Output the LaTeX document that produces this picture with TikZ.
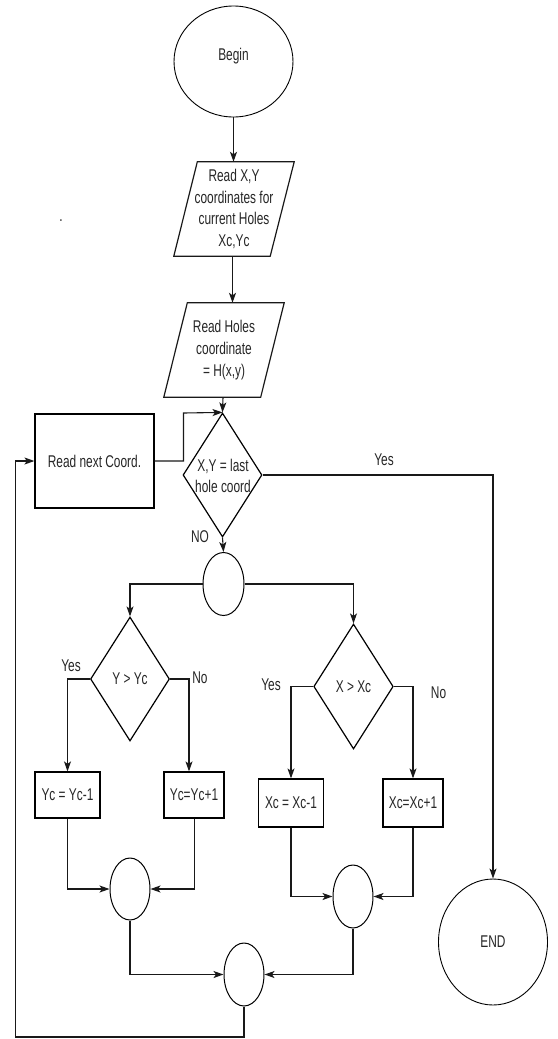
\documentclass[tikz,border=0pt]{standalone}
\usepackage{fontspec}
\setmainfont[FakeStretch=0.7]{Liberation Sans}
\usetikzlibrary{shapes.geometric,arrows.meta,calc}
\begin{document}
\begin{tikzpicture}[x=1pt,y=-1pt,
  every node/.style={font=\fontsize{17}{21.7}\selectfont, text=black!85, inner sep=0pt},
  ln/.style={line width=1.1pt, black!90},
  arr/.style={ln, -{Stealth[length=10pt,width=7pt,inset=2.5pt]}},
  circ/.style={ellipse, draw, line width=0.9pt},
  dia/.style={diamond, draw, line width=1.2pt},
  box/.style={rectangle, draw, line width=1.2pt},
  ptxt/.style={align=center}
]
\useasboundingbox (0,0) rectangle (557,1039);

% top
\node[circ, minimum width=119, minimum height=111] (begin) at (233.5,61.5) {};
\node[anchor=base] (begint) at (233.5,60) {Begin};

\node[ptxt, minimum width=120, minimum height=94] (p1) at (234,209) {Read X,Y\\coordinates for\\current Holes\\Xc,Yc};
\draw[ln, line width=1.2pt] ([xshift=23.5]p1.north west) -- (p1.north east) -- ([xshift=-24]p1.south east) -- (p1.south west) -- cycle;

\node[ptxt, minimum width=120, minimum height=94] (p2) at (224,350) {Read Holes\\coordinate\\= H(x,y)};
\draw[ln, line width=1.2pt] ([xshift=23.5]p2.north west) -- (p2.north east) -- ([xshift=-23.5]p2.south east) -- (p2.south west) -- cycle;

\node (dot) at (61,221) {.};

% main decision
\node[dia, minimum width=79, minimum height=124] (d1) at (222.5,475) {};
\node[ptxt] (d1t) at (223,476) {X,Y = last\\hole coord};

\node[box, minimum width=119, minimum height=94] (rn) at (94.5,461) {Read next Coord.};

\node[ellipse, draw, line width=1pt, minimum width=41, minimum height=63] (c1) at (223.5,584) {};

% Y branch
\node[dia, minimum width=79, minimum height=124] (dy) at (130,679) {};
\node (dyt) at (130,679) {Y > Yc};
\node[box, minimum width=65, minimum height=46] (by1) at (67.5,795) {Yc = Yc-1};
\node[box, minimum width=60, minimum height=46] (by2) at (194,795) {Yc=Yc+1};
\node[ellipse, draw, line width=1pt, minimum width=40, minimum height=62] (c2) at (130,889) {};

% X branch
\node[dia, minimum width=79.5, minimum height=125] (dx) at (353.5,686.5) {};
\node (dxt) at (353.5,687) {X > Xc};
\node[box, minimum width=65.5, minimum height=48] (bx1) at (291,803) {Xc = Xc-1};
\node[box, minimum width=60, minimum height=48] (bx2) at (413,803) {Xc=Xc+1};
\node[ellipse, draw, line width=1pt, minimum width=40, minimum height=63] (c3) at (353,896.5) {};

\node[ellipse, draw, line width=1pt, minimum width=40, minimum height=63] (c4) at (244,974.5) {};

\node[circ, minimum width=109, minimum height=126] (end) at (493,942) {END};

% labels
\node (lyes1) at (384,460) {Yes};
\node (lno1) at (200,537) {NO};
\node (lyes2) at (71,666) {Yes};
\node (lno2) at (200,678) {No};
\node (lyes3) at (271,685) {Yes};
\node (lno3) at (438.6,693) {No};

% connectors
\draw[arr] (begin.south) -- (begin.south |- p1.north);
\draw[arr] ([xshift=-1.5]p1.south) -- ([xshift=-1.5]p1.south |- p2.north);
\draw[arr] ([xshift=-1]p2.south) -- (d1.north);
\coordinate (j1) at (183.5,413);
\draw[arr] (rn.east) -| (j1) -- (d1.north);
\draw[arr] (d1.east) -| (end.north);
\draw[arr] (d1.south) -- (c1.north);
\draw[arr] (c1.west) -| (dy.north);
\draw[arr] (c1.east) -| (dx.north);
\draw[arr] (dy.west) -| (by1.north);
\draw[arr] (dy.east) -| ([xshift=-5]by2.north);
\draw[arr] (dx.west) -| (bx1.north);
\draw[arr] (dx.east) -| (bx2.north);
\draw[arr] (by1.south) |- (c2.west);
\draw[arr] ([xshift=0.5]by2.south) |- (c2.east);
\draw[arr] (bx1.south) |- (c3.west);
\draw[arr] (bx2.south) |- (c3.east);
\draw[arr] (c2.south) |- (c4.west);
\draw[arr] (c3.south) |- (c4.east);
\coordinate (bl) at (15.5,1037);
\draw[arr] (c4.south) |- (bl) |- (rn.west);
\end{tikzpicture}
\end{document}
